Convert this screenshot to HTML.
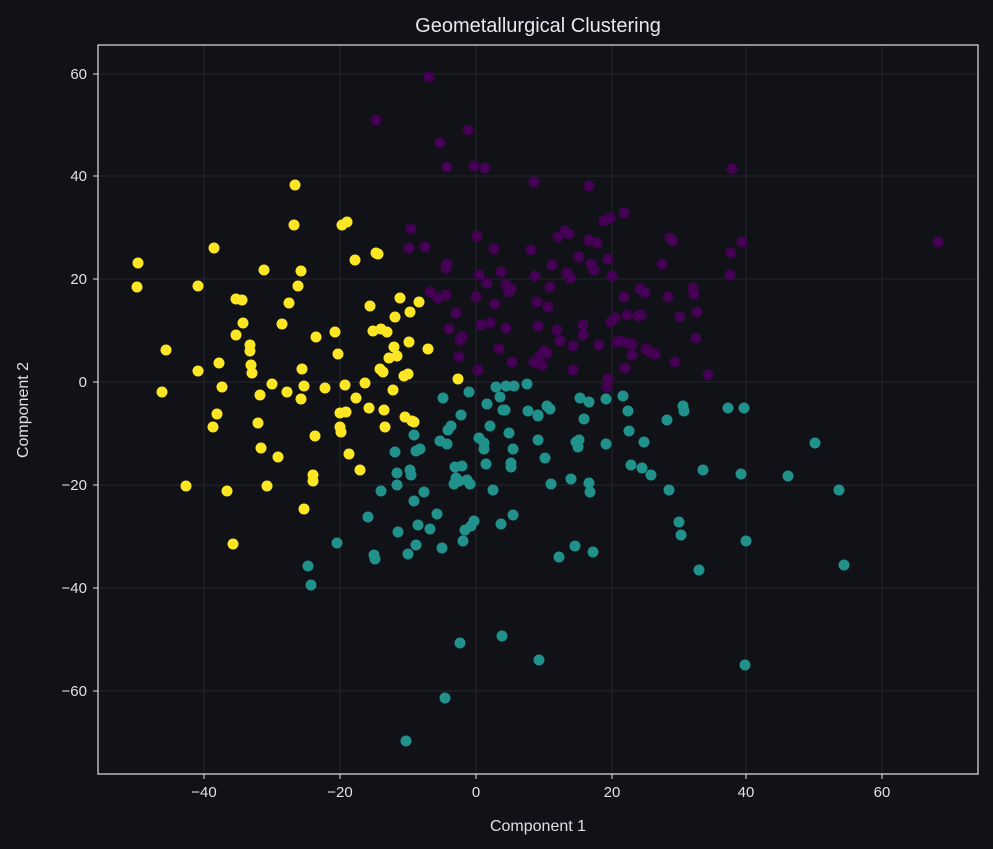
<!DOCTYPE html>
<html><head><meta charset="utf-8"><style>
html,body{margin:0;padding:0;background:#111217;}
svg{display:block;font-family:"Liberation Sans","DejaVu Sans",sans-serif;}
</style></head><body>
<svg id="s" width="993" height="849" viewBox="0 0 993 849" xmlns="http://www.w3.org/2000/svg">
<rect width="993" height="849" fill="#111217"/>
<g stroke="#25272c" stroke-width="1">
<line x1="204" y1="45" x2="204" y2="774"/><line x1="340" y1="45" x2="340" y2="774"/><line x1="476" y1="45" x2="476" y2="774"/><line x1="612" y1="45" x2="612" y2="774"/><line x1="746" y1="45" x2="746" y2="774"/><line x1="882" y1="45" x2="882" y2="774"/>
<line x1="98" y1="74" x2="978" y2="74"/><line x1="98" y1="176" x2="978" y2="176"/><line x1="98" y1="279" x2="978" y2="279"/><line x1="98" y1="382" x2="978" y2="382"/><line x1="98" y1="485" x2="978" y2="485"/><line x1="98" y1="588" x2="978" y2="588"/><line x1="98" y1="691" x2="978" y2="691"/>
</g>
<g id="pts"></g>
<rect x="98" y="45" width="880" height="729" fill="none" stroke="#e0e0e0" stroke-width="1.2"/>
<g stroke="#e0e0e0">
<line x1="204" y1="774" x2="204" y2="779"/><line x1="340" y1="774" x2="340" y2="779"/><line x1="476" y1="774" x2="476" y2="779"/><line x1="612" y1="774" x2="612" y2="779"/><line x1="746" y1="774" x2="746" y2="779"/><line x1="882" y1="774" x2="882" y2="779"/>
<line x1="93" y1="74" x2="98" y2="74"/><line x1="93" y1="176" x2="98" y2="176"/><line x1="93" y1="279" x2="98" y2="279"/><line x1="93" y1="382" x2="98" y2="382"/><line x1="93" y1="485" x2="98" y2="485"/><line x1="93" y1="588" x2="98" y2="588"/><line x1="93" y1="691" x2="98" y2="691"/>
</g>
<g fill="#e0e0e0" font-size="15" text-anchor="middle">
<text x="204" y="797">−40</text><text x="340" y="797">−20</text><text x="476" y="797">0</text><text x="612" y="797">20</text><text x="746" y="797">40</text><text x="882" y="797">60</text>
</g>
<g fill="#e0e0e0" font-size="15" text-anchor="end">
<text x="87" y="79">60</text><text x="87" y="181">40</text><text x="87" y="284">20</text><text x="87" y="387">0</text><text x="87" y="490">−20</text><text x="87" y="593">−40</text><text x="87" y="696">−60</text>
</g>
<text x="538" y="831" fill="#e0e0e0" font-size="16" text-anchor="middle">Component 1</text>
<text x="28" y="410" fill="#e0e0e0" font-size="16" text-anchor="middle" transform="rotate(-90 28 410)">Component 2</text>
<text x="538" y="32" fill="#e8e8e8" font-size="20" text-anchor="middle">Geometallurgical Clustering</text>
</svg>
<script>
var Y=[138,263,137,287,166,350,162,392,186,486,198,286,198,371,214,248,219,363,222,387,217,414,213,427,227,491,233,544,236,335,242,300,243,323,236,299,250,351,251,365,252,373,250,345,258,423,264,270,260,395,261,448,267,486,272,384,278,457,282,324,287,392,289,303,294,225,295,185,298,286,302,369,301,399,301,271,304,386,304,509,313,475,313,481,315,436,316,337,325,388,335,332,338,354,340,413,341,432,340,427,345,385,346,412,347,222,342,225,349,454,355,260,356,398,360,470,365,383,369,408,370,306,373,331,376,253,378,254,380,369,381,329,383,372,384,410,385,427,387,332,389,358,393,390,394,347,395,317,397,356,400,298,404,376,405,417,408,374,409,342,410,312,412,421,414,422,419,302,428,349,458,379];
var P=[938,242,376,120,429,77,440,143,447,167,468,130,474,166,485,168,411,229,409,248,425,247,430,292,438,298,446,295,446,268,447,264,449,329,456,313,460,340,459,357,462,337,476,297,477,236,481,325,479,275,487,283,490,323,478,370,494,249,495,304,499,349,501,272,506,285,509,292,506,328,511,289,512,362,531,250,534,182,535,276,537,302,538,326,542,365,534,362,540,356,544,351,547,353,552,265,550,287,548,307,558,237,557,330,565,231,567,273,569,234,560,341,570,278,579,257,583,325,573,346,583,335,573,370,589,186,589,240,591,264,597,243,594,270,599,345,604,221,610,218,608,259,612,276,615,318,617,342,611,322,608,379,607,387,624,213,624,297,620,341,625,368,627,343,632,344,627,315,632,355,640,289,645,293,638,316,641,315,646,349,650,352,655,354,662,264,668,297,670,238,673,241,675,362,680,317,693,288,694,294,697,312,696,338,708,375,731,253,730,275,732,169,742,242];
var T=[308,566,311,585,337,543,368,517,374,555,375,559,381,491,395,452,397,485,397,473,398,532,408,554,410,470,411,475,414,501,414,435,416,545,416,451,420,449,418,525,424,492,430,529,437,514,440,441,442,548,445,698,443,398,448,430,451,426,447,444,454,484,455,467,456,478,461,415,459,481,460,643,462,466,463,541,465,530,467,480,470,484,471,526,474,521,469,392,479,438,484,449,484,443,486,464,487,404,490,426,493,490,496,387,500,397,501,524,502,636,503,410,505,410,506,386,509,433,511,467,511,463,513,515,514,386,513,449,527,384,528,411,538,415,538,440,538,416,539,660,545,458,547,406,550,409,551,484,559,557,571,479,575,546,578,447,579,440,576,442,580,398,584,419,589,402,589,483,590,492,593,552,606,399,606,444,623,396,628,411,629,431,631,465,642,468,644,442,651,475,667,420,669,490,679,522,681,535,683,406,684,411,699,570,703,470,728,408,741,474,744,408,746,541,745,665,788,476,815,443,839,490,844,565,406,741];
var g=document.getElementById('pts'),NS='http://www.w3.org/2000/svg';
function add(a,c){for(var i=0;i<a.length;i+=2){var e=document.createElementNS(NS,'circle');e.setAttribute('cx',a[i]);e.setAttribute('cy',a[i+1]);e.setAttribute('r','5.5');e.setAttribute('fill',c);g.appendChild(e);}}
add(P,'#440154');add(T,'#21918c');add(Y,'#fde725');
</script>
</body></html>
